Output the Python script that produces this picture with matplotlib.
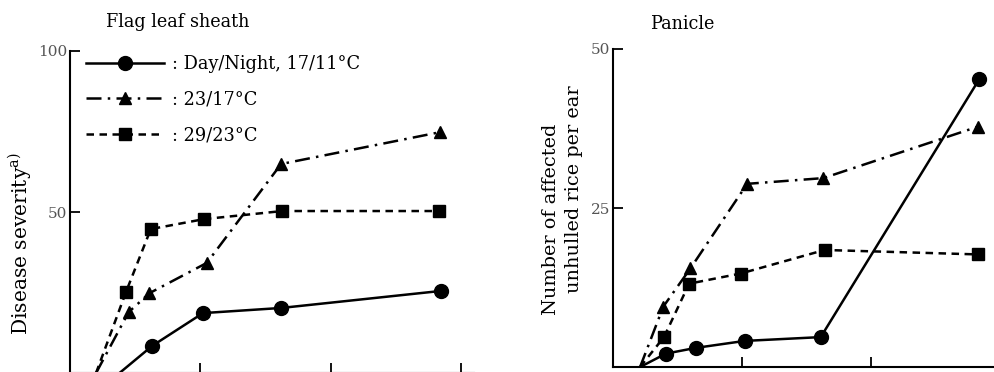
import matplotlib
matplotlib.use("Agg")
import matplotlib.pyplot as plt

plt.rcParams['font.family'] = ['DejaVu Serif']
plt.rcParams['mathtext.fontset'] = 'dejavuserif'

# days after inoculation (first point = start of the curve, no marker)
# Flag leaf sheath
sheath_x_17 = [3.8, 6.3, 10.2, 16.2, 28.5]
sheath_y_17 = [0, 8.4, 18.6, 20.2, 25.5]
sheath_x_23 = [2.0, 4.5, 6.1, 10.5, 16.2, 28.4]
sheath_y_23 = [0, 18.9, 24.8, 34.2, 64.9, 74.8]
sheath_x_29 = [2.0, 4.3, 6.2, 10.3, 16.3, 28.3]
sheath_y_29 = [0, 25.2, 44.7, 47.8, 50.3, 50.3]

# Panicle
panicle_x_17 = [2.1, 4.1, 6.4, 10.2, 16.1, 28.4]
panicle_y_17 = [0, 2.1, 3.0, 4.1, 4.7, 45.3]
panicle_x_23 = [2.1, 3.9, 6.0, 10.4, 16.3, 28.3]
panicle_y_23 = [0, 9.5, 15.5, 28.8, 29.7, 37.8]
panicle_x_29 = [2.1, 3.95, 5.9, 9.9, 16.4, 28.3]
panicle_y_29 = [0, 4.7, 13.1, 14.7, 18.4, 17.7]

labels = [': Day/Night, 17/11°C', ': 23/17°C', ': 29/23°C']
xticks = [10, 20, 30]

style_17 = dict(color='black', lw=1.8, ls='-', marker='o', ms=10)
style_23 = dict(color='black', lw=1.8, ls=(0, (6, 2.5, 1, 2.5)), marker='^', ms=9)
style_29 = dict(color='black', lw=1.8, ls=(0, (3, 2.2)), marker='s', ms=9)

fig = plt.figure(figsize=(9.95, 3.72), dpi=100)
ax1 = fig.add_axes([70/995, -1/372, 404/995, 322/372])
ax2 = fig.add_axes([613/995, 5/372, 400/995, 318/372])


def every(xs):
    return list(range(1, len(xs)))


ax1.plot(sheath_x_17, sheath_y_17, markevery=every(sheath_x_17), label=labels[0], **style_17)
ax1.plot(sheath_x_23, sheath_y_23, markevery=every(sheath_x_23), label=labels[1], **style_23)
ax1.plot(sheath_x_29, sheath_y_29, markevery=every(sheath_x_29), label=labels[2], **style_29)

ax2.plot(panicle_x_17, panicle_y_17, markevery=every(panicle_x_17), **style_17)
ax2.plot(panicle_x_23, panicle_y_23, markevery=every(panicle_x_23), **style_23)
ax2.plot(panicle_x_29, panicle_y_29, markevery=every(panicle_x_29), **style_29)

for ax, top, yt in [(ax1, 100, [50, 100]), (ax2, 50, [25, 50])]:
    ax.set_xlim(0, 31)
    ax.set_ylim(0, top)
    ax.set_xticks(xticks)
    ax.set_xticklabels([])
    ax.set_yticks(yt)
    ax.spines['top'].set_visible(False)
    ax.spines['right'].set_visible(False)
    ax.spines['left'].set_linewidth(1.5)
    ax.spines['bottom'].set_linewidth(1.5)
    ax.tick_params(direction='in', length=7, width=1.3, labelsize=11, labelcolor='#555555', pad=2)

ax1.set_ylabel('Disease severity$^{\\mathrm{a)}}$', fontsize=14.6)
ax1.yaxis.set_label_coords(-0.09, 0.40)

# two-line label of the panicle plot, the lines are offset in the original
fig.text(551/995, 1 - 219/372, 'Number of affected', fontsize=13.9,
         rotation=90, ha='center', va='center')
fig.text(574/995, 1 - 189/372, 'unhulled rice per ear', fontsize=13.9,
         rotation=90, ha='center', va='center')

fig.text(178/995, 1 - 22/372, 'Flag leaf sheath', fontsize=12.7, ha='center', va='center')
fig.text(682/995, 1 - 24/372, 'Panicle', fontsize=12.7, ha='center', va='center')

ax1.legend(loc='upper left', bbox_to_anchor=(0.022, 1.01), frameon=False, fontsize=12.8,
           handlelength=4.4, handletextpad=0.45, labelspacing=1.0, borderaxespad=0)

fig.savefig('out.png', dpi=100)
